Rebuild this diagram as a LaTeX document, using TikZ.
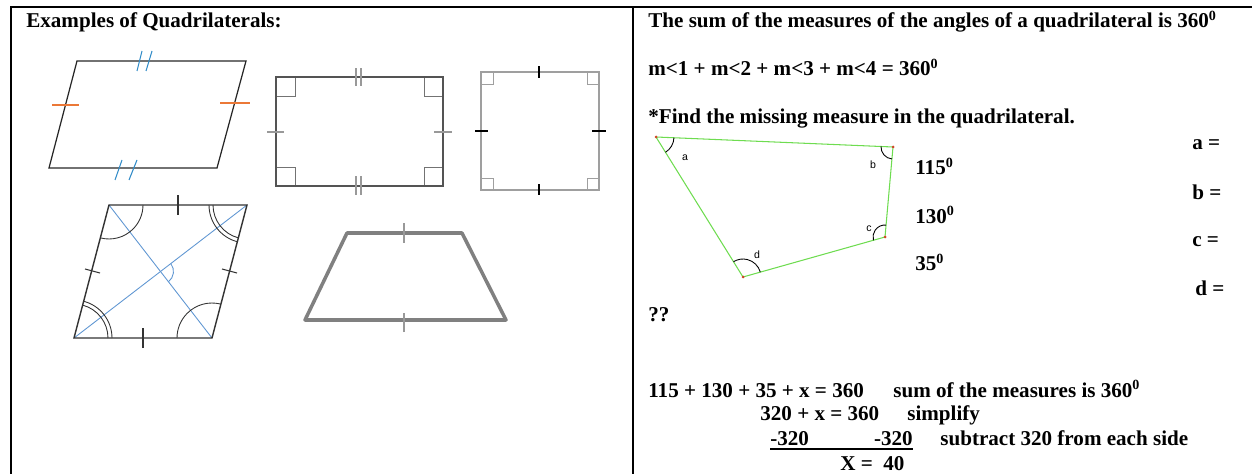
\documentclass[tikz,border=0pt]{standalone}
\usepackage{fontspec}
\setmainfont{Liberation Serif}
\newfontfamily\anglefont{Liberation Sans}
\usetikzlibrary{angles, positioning}

\definecolor{quadgreen}{RGB}{110,220,80}
\definecolor{tickblue}{RGB}{50,140,200}
\definecolor{tickorange}{RGB}{235,120,55}
\definecolor{diagblue}{RGB}{95,150,210}
\definecolor{dotred}{RGB}{210,70,40}

\begin{document}
\begin{tikzpicture}[x=0.02cm, y=0.02cm,
  txt/.style={anchor=base west, inner sep=0pt, font=\fontsize{12}{14}\selectfont\bfseries},
  rtxt/.style={anchor=base east, inner sep=0pt, font=\fontsize{12}{14}\selectfont\bfseries},
  lbl/.style={inner sep=0pt, font=\fontsize{6}{7}\selectfont\anglefont},
  frame/.style={line width=1.4pt, black},
  corner/.style={line width=0.5pt, #1},
  tick/.style={line width=0.6pt, #1},
  ang/.style={draw, line width=0.5pt, angle radius=#1}
]
\useasboundingbox (0,0) rectangle (1252,474);

% Table frame
\draw[frame] (10,467) -- (1252,467);
\draw[frame] (11,467) -- (11,0);
\draw[frame] (633,467) -- (633,0);

% Left cell
\node[txt] (title) at (26,446) {Examples of Quadrilaterals:};

% Parallelogram with tick marks
\coordinate (pa) at (77,413);
\coordinate (pb) at (246,413);
\coordinate (pc) at (217,306);
\coordinate (pd) at (49,306);
\draw[line width=0.7pt, black!85] (pa) -- (pb) -- (pc) -- (pd) -- cycle;
\draw[tick=tickorange, line width=0.9pt] (52,369) -- (79,369);
\draw[tick=tickorange, line width=0.9pt] (220,371) -- (250,371);
\draw[tick=tickblue] (137,403) -- (142,423);
\draw[tick=tickblue] (146,403) -- (152,423);
\draw[tick=tickblue] (115,294) -- (122,314);
\draw[tick=tickblue] (129,294) -- (137,314);

% Rectangle
\coordinate (ra) at (276,397);
\coordinate (rb) at (443,397);
\coordinate (rc) at (443,288);
\coordinate (rd) at (276,288);
\draw[corner=black!55] (ra) rectangle ++(19,-19);
\draw[corner=black!55] (rb) rectangle ++(-19,-19);
\draw[corner=black!55] (rc) rectangle ++(-19,19);
\draw[corner=black!55] (rd) rectangle ++(19,19);
\draw[line width=1.7pt, black!67] (ra) -- (rb) -- (rc) -- (rd) -- cycle;
\foreach \xx in {356,361} {
  \draw[tick=black!40] (\xx,388) -- (\xx,406);
  \draw[tick=black!40] (\xx,279) -- (\xx,298);
}
\draw[tick=black!40] (267,342) -- (284,342);
\draw[tick=black!40] (434,342) -- (452,342);

% Square
\coordinate (sa) at (481,402);
\coordinate (sb) at (599,402);
\coordinate (sc) at (599,284);
\coordinate (sd) at (481,284);
\draw[corner=gray!75] (sa) rectangle ++(12,-12);
\draw[corner=gray!75] (sb) rectangle ++(-12,-12);
\draw[corner=gray!75] (sc) rectangle ++(-12,12);
\draw[corner=gray!75] (sd) rectangle ++(12,12);
\draw[line width=0.6pt, gray!75] (sa) -- (sb) -- (sc) -- (sd) -- cycle;
\draw[tick=black] (539,396) -- (539,408);
\draw[tick=black] (539,279) -- (539,290);
\draw[tick=black] (475,343) -- (488,343);
\draw[tick=black] (592,343) -- (606,343);

% Parallelogram with diagonals
\coordinate (ma) at (109,269);
\coordinate (mb) at (247,269);
\coordinate (mc) at (212,136);
\coordinate (md) at (74,136);
\coordinate (mx) at (160.5,202.5);
\draw[line width=0.5pt, diagblue] (ma) -- (mc);
\draw[line width=0.5pt, diagblue] (md) -- (mb);
\pic[draw, line width=0.5pt, diagblue, angle radius=0.26cm] {angle = mc--mx--mb};
\draw[line width=0.8pt, black!80] (ma) -- (mb) -- (mc) -- (md) -- cycle;
\pic[ang=0.68cm, black!80] {angle = md--ma--mb};
\pic[ang=0.70cm, black!80] {angle = mb--mc--md};
\pic[ang=0.68cm, black!80] {angle = ma--mb--mc};
\pic[ang=0.76cm, black!80] {angle = ma--mb--mc};
\pic[ang=0.68cm, black!80] {angle = mc--md--ma};
\pic[ang=0.76cm, black!80] {angle = mc--md--ma};
\draw[tick=black!80] (178,259) -- (178,279);
\draw[tick=black!80] (143,126) -- (143,146);
\draw[tick=black!80] (85,205) -- (100,201);
\draw[tick=black!80] (222,205) -- (237,201);

% Trapezoid
\coordinate (ta) at (347,241);
\coordinate (tb) at (462,241);
\coordinate (tc) at (506,154);
\coordinate (td) at (305,154);
\draw[line width=2pt, black!50, line join=round] (ta) -- (tb) -- (tc) -- (td) -- cycle;
\draw[tick=gray!80] (404,231) -- (404,251);
\draw[tick=gray!80] (404,142) -- (404,161);

% Right cell
\node[txt] (sumrule) at (648,446) {The sum of the measures of the angles of a quadrilateral is 360\textsuperscript{0}};
\node[txt] (eqn) at (648,398) {m<1 + m<2 + m<3 + m<4 = 360\textsuperscript{0}};
\node[txt] (task) at (648,350) {*Find the missing measure in the quadrilateral.};

% Quadrilateral abcd
\coordinate (qa) at (656,337);
\coordinate (qb) at (893,327);
\coordinate (qc) at (885,237);
\coordinate (qd) at (743,197);
\draw[line width=0.6pt, quadgreen] (qa) -- (qb) -- (qc) -- (qd) -- cycle;
\foreach \q in {qa,qb,qc,qd}
  \fill[dotred] (\q) circle (1.5);
\pic[ang=0.36cm] {angle = qd--qa--qb};
\pic[ang=0.24cm] {angle = qa--qb--qc};
\pic[ang=0.24cm] {angle = qb--qc--qd};
\pic[ang=0.36cm] {angle = qc--qd--qa};
\node[lbl] (la) at (685,316) {a};
\node[lbl] (lb) at (873,309) {b};
\node[lbl] (lc) at (869,245) {c};
\node[lbl] (ld) at (757,219) {d};

% Given angles and answers
\node[txt] (vala) at (915,299) {115\textsuperscript{0}};
\node[txt] (valb) at (915,251) {130\textsuperscript{0}};
\node[txt] (valc) at (915,203) {35\textsuperscript{0}};
\node[txt] (ansa) at (1192,324) {a =};
\node[txt] (ansb) at (1192,275) {b =};
\node[txt] (ansc) at (1192,227) {c =};
\node[txt] (ansd) at (1195,178) {d =};
\node[txt] (ansq) at (648,153) {??};

% Solution steps
\node[txt] (step1) at (648,77) {115 + 130 + 35 + x = 360};
\node[txt] (note1) at (893,77) {sum of the measures is 360\textsuperscript{0}};
\node[txt] (step2) at (760,54) {320 + x = 360};
\node[txt] (note2) at (907,54) {simplify};
\node[txt] (neg1) at (770,29) {-320};
\node[rtxt] (neg2) at (913,29) {-320};
\draw[line width=1pt] ([yshift=-1.8pt]neg1.south west) -- ([yshift=-1.8pt]neg2.south east);
\node[txt] (note3) at (940,29) {subtract 320 from each side};
\node[txt] (step3) at (840,4) {X =\ \ 40};
\end{tikzpicture}
\end{document}
